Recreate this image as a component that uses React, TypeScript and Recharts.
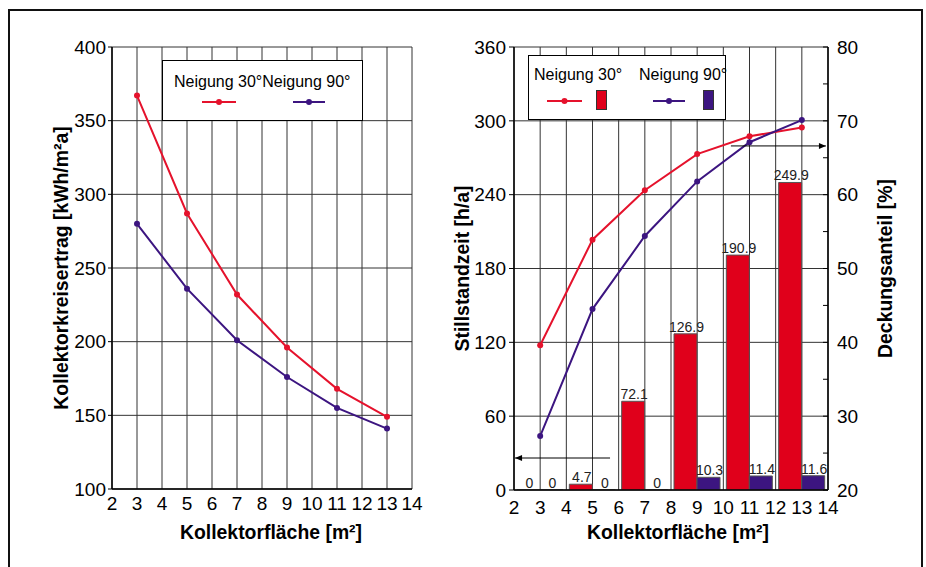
import {
  Bar,
  CartesianGrid,
  ComposedChart,
  Label,
  LabelList,
  Legend,
  Line,
  LineChart,
  ReferenceLine,
  XAxis,
  YAxis,
} from "recharts";

const FONT = '"Liberation Sans", Arial, Helvetica, sans-serif';
const RED_LINE = "#e5122c";
const RED_BAR = "#e0001b";
const PURPLE = "#3c1580";
const GRID = "#333";

// Kollektorfläche [m²]
const areas = [3, 5, 7, 9, 11, 13];

// left: Kollektorkreisertrag [kWh/m²a]
const yield30 = [367, 287, 232, 196, 168, 149];
const yield90 = [280, 236, 201, 176, 155, 141];

// right: Deckungsanteil [%] (lines) and Stillstandzeit [h/a] (bars)
const share30 = [39.6, 53.9, 60.6, 65.5, 67.9, 69.1];
const share90 = [27.3, 44.5, 54.4, 61.8, 67.1, 70.1];
const hours30 = [0, 4.7, 72.1, 126.9, 190.9, 249.9];
const hours90 = [0, 0, 0, 10.3, 11.4, 11.6];

const areaTicks = [2, 3, 4, 5, 6, 7, 8, 9, 10, 11, 12, 13, 14];
const yieldTicks = [100, 150, 200, 250, 300, 350, 400];
const hourTicks = [0, 60, 120, 180, 240, 300, 360];
const shareTicks = [20, 25, 30, 35, 40, 45, 50, 55, 60, 65, 70, 75, 80];

// arrows telling which axis belongs to which series
const hoursArrow = [{ x: 5.67, y: 26 }, { x: 2.04, y: 26 }];
const shareArrow = [{ x: 10.29, y: 66.6 }, { x: 13.92, y: 66.6 }];

const LABEL_30 = "Neigung 30°";
const LABEL_90 = "Neigung 90°";

const yieldData = areas.map((a, i) => ({ area: a, n30: yield30[i], n90: yield90[i] }));
const rightData = areas.map((a, i) => ({
  area: a,
  s30: share30[i],
  s90: share90[i],
  h30: hours30[i],
  h90: hours90[i],
}));

const tickStyle = { fill: "#000", fontSize: 19, fontFamily: FONT };
const titleStyle = { fill: "#000", fontSize: 19.4, fontWeight: 700, fontFamily: FONT };
const axisLine = { stroke: "#000", strokeWidth: 1.5 };

function LineIcon({ left, top, width, color }: { left: number; top: number; width: number; color: string }) {
  return (
    <svg style={{ position: "absolute", left, top: top - 4 }} width={width} height={8}>
      <line x1={0} y1={4} x2={width} y2={4} stroke={color} strokeWidth={2} />
      <circle cx={width / 2} cy={4} r={3} fill={color} />
    </svg>
  );
}

function BoxIcon({ left, top, color }: { left: number; top: number; color: string }) {
  return (
    <div
      style={{
        position: "absolute",
        left,
        top,
        width: 9,
        height: 18,
        background: color,
        border: "1px solid #333",
      }}
    />
  );
}

const legendBox = {
  position: "relative" as const,
  width: "100%",
  height: "100%",
  boxSizing: "border-box" as const,
  border: "1px solid #000",
  background: "#fff",
  fontFamily: FONT,
  fontSize: 16,
  color: "#000",
};

function YieldLegend() {
  return (
    <div style={legendBox}>
      <span style={{ position: "absolute", left: 11, top: 12, whiteSpace: "nowrap" }}>
        {LABEL_30}
        {LABEL_90}
      </span>
      <LineIcon left={39} top={41} width={34} color={RED_LINE} />
      <LineIcon left={130} top={41} width={32} color={PURPLE} />
    </div>
  );
}

function ShareLegend() {
  return (
    <div style={legendBox}>
      <span style={{ position: "absolute", left: 5, top: 10, whiteSpace: "nowrap" }}>{LABEL_30}</span>
      <span style={{ position: "absolute", left: 110, top: 10, whiteSpace: "nowrap" }}>{LABEL_90}</span>
      <LineIcon left={18} top={45} width={35} color={RED_LINE} />
      <BoxIcon left={67} top={34} color={RED_BAR} />
      <LineIcon left={124} top={45} width={32} color={PURPLE} />
      <BoxIcon left={174} top={34} color={PURPLE} />
    </div>
  );
}

function Arrow(props: any) {
  const { x1, y1, x2, y2 } = props;
  const dir = x2 > x1 ? 1 : -1;
  return (
    <g>
      <line x1={x1} y1={y1} x2={x2} y2={y2} stroke="#000" strokeWidth={1} />
      <path d={`M${x2},${y2} L${x2 - dir * 7},${y2 - 3} L${x2 - dir * 7},${y2 + 3} Z`} fill="#000" />
    </g>
  );
}

// value above each bar, zeros included
function BarValue(props: any) {
  const { x, y, width, value } = props;
  if (x == null || y == null) return null;
  return (
    <text
      x={Number(x) + Number(width) / 2 + 1}
      y={Number(y) - 2}
      textAnchor="middle"
      fontSize={14}
      fill="#222"
      fontFamily={FONT}
    >
      {value}
    </text>
  );
}

function YieldChart() {
  return (
    <LineChart
      width={463}
      height={567}
      data={yieldData}
      margin={{ top: 47, right: 51, bottom: 18, left: 10 }}
    >
      <CartesianGrid stroke={GRID} strokeWidth={1} />
      <XAxis
        dataKey="area"
        type="number"
        domain={[2, 14]}
        ticks={areaTicks}
        interval={0}
        allowDataOverflow
        height={60}
        tickLine={false}
        tickSize={0}
        tickMargin={8}
        axisLine={axisLine}
        tick={tickStyle}
      >
        <Label value="Kollektorfläche [m²]" position="insideBottom" offset={10} dx={9} style={titleStyle} />
      </XAxis>
      <YAxis
        type="number"
        domain={[100, 400]}
        ticks={yieldTicks}
        interval={0}
        allowDataOverflow
        width={102}
        tickSize={4}
        tickMargin={2}
        tickLine={{ stroke: "#000" }}
        axisLine={axisLine}
        tick={tickStyle}
      >
        <Label value="Kollektorkreisertrag [kWh/m²a]" angle={-90} position="center" style={titleStyle} />
      </YAxis>
      <Legend
        layout="horizontal"
        verticalAlign="middle"
        align="center"
        content={<YieldLegend />}
        wrapperStyle={{ left: 162, top: 60, width: 201, height: 61 }}
      />
      <Line
        type="linear"
        dataKey="n30"
        name={LABEL_30}
        stroke={RED_LINE}
        strokeWidth={2}
        dot={{ r: 3, fill: RED_LINE, stroke: RED_LINE, strokeWidth: 0 }}
        isAnimationActive={false}
      />
      <Line
        type="linear"
        dataKey="n90"
        name={LABEL_90}
        stroke={PURPLE}
        strokeWidth={2}
        dot={{ r: 3, fill: PURPLE, stroke: PURPLE, strokeWidth: 0 }}
        isAnimationActive={false}
      />
    </LineChart>
  );
}

function ShareChart() {
  return (
    <ComposedChart
      width={560}
      height={567}
      data={rightData}
      barGap={0}
      margin={{ top: 47, right: 18, bottom: 17, left: 10 }}
    >
      <CartesianGrid yAxisId="l" stroke={GRID} strokeWidth={1} />
      <XAxis
        dataKey="area"
        type="number"
        domain={[2, 14]}
        ticks={areaTicks}
        interval={0}
        allowDataOverflow
        height={60}
        tickLine={false}
        tickSize={0}
        tickMargin={11}
        axisLine={axisLine}
        tick={tickStyle}
      >
        <Label value="Kollektorfläche [m²]" position="insideBottom" offset={11} dx={7} style={titleStyle} />
      </XAxis>
      <YAxis
        yAxisId="l"
        type="number"
        domain={[0, 360]}
        ticks={hourTicks}
        interval={0}
        allowDataOverflow
        width={104}
        tickSize={5}
        tickMargin={3}
        tickLine={{ stroke: "#000" }}
        axisLine={axisLine}
        tick={tickStyle}
      >
        <Label value="Stillstandzeit [h/a]" angle={-90} position="center" style={titleStyle} />
      </YAxis>
      <YAxis
        yAxisId="r"
        orientation="right"
        type="number"
        domain={[20, 80]}
        ticks={shareTicks}
        interval={0}
        allowDataOverflow
        width={114}
        tickSize={-5}
        tickMargin={14}
        tickLine={{ stroke: "#000" }}
        tickFormatter={(v: number) => (v % 10 === 0 ? String(v) : "")}
        axisLine={axisLine}
        tick={tickStyle}
      >
        <Label value="Deckungsanteil [%]" angle={-90} position="center" style={titleStyle} />
      </YAxis>
      <Legend
        layout="horizontal"
        verticalAlign="middle"
        align="center"
        content={<ShareLegend />}
        wrapperStyle={{ left: 128, top: 55, width: 198, height: 65 }}
      />
      <Bar
        yAxisId="l"
        dataKey="h30"
        name={LABEL_30}
        barSize={23}
        minPointSize={0.01}
        fill={RED_BAR}
        stroke="#555"
        strokeWidth={1}
        isAnimationActive={false}
      >
        <LabelList dataKey="h30" content={BarValue} />
      </Bar>
      <Bar
        yAxisId="l"
        dataKey="h90"
        name={LABEL_90}
        barSize={23}
        minPointSize={0.01}
        fill={PURPLE}
        stroke="#555"
        strokeWidth={1}
        isAnimationActive={false}
      >
        <LabelList dataKey="h90" content={BarValue} />
      </Bar>
      <Line
        yAxisId="r"
        type="linear"
        dataKey="s30"
        name={LABEL_30}
        stroke={RED_LINE}
        strokeWidth={2}
        dot={{ r: 3, fill: RED_LINE, stroke: RED_LINE, strokeWidth: 0 }}
        isAnimationActive={false}
      />
      <Line
        yAxisId="r"
        type="linear"
        dataKey="s90"
        name={LABEL_90}
        stroke={PURPLE}
        strokeWidth={2}
        dot={{ r: 3, fill: PURPLE, stroke: PURPLE, strokeWidth: 0 }}
        isAnimationActive={false}
      />
      <ReferenceLine yAxisId="l" segment={hoursArrow} shape={Arrow} ifOverflow="visible" />
      <ReferenceLine yAxisId="r" segment={shareArrow} shape={Arrow} ifOverflow="visible" />
    </ComposedChart>
  );
}

export default function App() {
  return (
    <div
      style={{
        position: "absolute",
        left: 0,
        top: 0,
        width: 926,
        height: 567,
        overflow: "hidden",
        background: "#fff",
        fontFamily: FONT,
      }}
    >
      <div
        style={{
          position: "absolute",
          left: 8,
          top: 9,
          width: 911,
          height: 640,
          border: "2px solid #111",
        }}
      />
      <div style={{ position: "absolute", left: 0, top: 0 }}>
        <YieldChart />
      </div>
      <div style={{ position: "absolute", left: 400, top: 0 }}>
        <ShareChart />
      </div>
    </div>
  );
}
